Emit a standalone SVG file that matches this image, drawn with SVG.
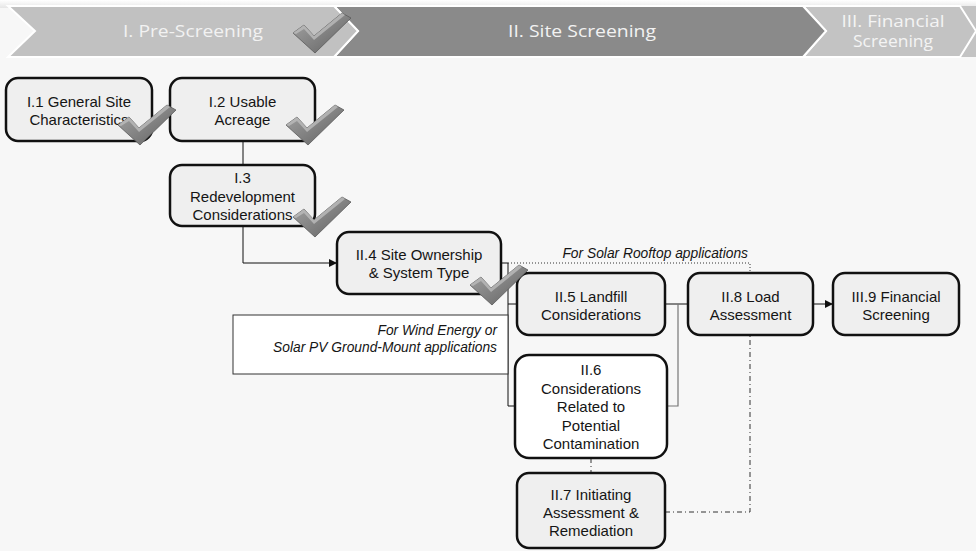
<svg xmlns="http://www.w3.org/2000/svg" width="976" height="551" viewBox="0 0 976 551">
  <style>
    .node rect { fill: #efefef; stroke: #111; stroke-width: 2.5; }
    .node.white rect { fill: #ffffff; }
    .node text { font-family: "Liberation Sans", Arial, sans-serif; font-size: 15px; fill: #151515; text-anchor: middle; }
    .note { font-family: "Liberation Sans", Arial, sans-serif; font-size: 13.8px; font-style: italic; fill: #151515; text-anchor: end; }
    .phase { font-family: "Open Sans", "Noto Sans", sans-serif; font-size: 16px; text-anchor: middle; }
    .solid { fill: none; stroke: #111; stroke-width: 1; }
    .grey { fill: none; stroke: #777; stroke-width: 1.2; }
    .dotted { fill: none; stroke: #333; stroke-width: 1; stroke-dasharray: 1 2; }
    .dashdot { fill: none; stroke: #333; stroke-width: 1; stroke-dasharray: 5 3 1 3; }
  </style>
  <defs>
    <linearGradient id="topfade" x1="0" y1="0" x2="0" y2="1">
      <stop offset="0" stop-color="#ffffff"/>
      <stop offset="1" stop-color="#e6e6e6"/>
    </linearGradient>
    <linearGradient id="checkfill" x1="0" y1="0" x2="1" y2="1">
      <stop offset="0" stop-color="#a8a8a8"/>
      <stop offset="0.6" stop-color="#7c7c7c"/>
      <stop offset="1" stop-color="#5e5e5e"/>
    </linearGradient>
    <marker id="arrow" viewBox="0 0 10 10" refX="10" refY="5" markerWidth="8" markerHeight="8" markerUnits="userSpaceOnUse" orient="auto">
      <path d="M0,0 L10,5 L0,10 z" fill="#111"/>
    </marker>
    <!-- bevelled tick mark, 58 x 40 -->
    <g id="check">
      <polygon points="0,20 11,12 21,23 49,0 58,5 22,40" fill="url(#checkfill)" stroke="#5a5a5a" stroke-width="0.8"/>
      <polygon points="0,20 11,12 21,23 49,0 52,2 21,27 11,16 3,21" fill="#bcbcbc" opacity="0.8"/>
    </g>
  </defs>

  <!-- page -->
  <rect x="0" y="0" width="976" height="551" fill="#f7f7f7"/>
  <rect x="0" y="0" width="976" height="8" fill="url(#topfade)"/>

  <!-- phase banner -->
  <g id="phases">
    <polygon points="826,6 976,6 976,57 826,57" fill="#c3c3c3"/>
    <polygon points="803,6 960,6 976,31 960,57 803,57 826,31" fill="#c3c3c3" stroke="#ffffff" stroke-width="2"/>
    <polygon points="334,6 803,6 826,31 803,57 334,57 358,31" fill="#8a8a8a" stroke="#ffffff" stroke-width="2"/>
    <polygon points="8,6 334,6 358,31 334,57 8,57 35,31" fill="#c1c1c1" stroke="#ffffff" stroke-width="2"/>
    <text class="phase" x="193" y="37" fill="#f2f2f2" textLength="140" lengthAdjust="spacingAndGlyphs">I. Pre-Screening</text>
    <text class="phase" x="582" y="37" fill="#f2f2f2" textLength="148" lengthAdjust="spacingAndGlyphs">II. Site Screening</text>
    <text class="phase" x="893" y="27" fill="#f4f4f4" textLength="103" lengthAdjust="spacingAndGlyphs">III. Financial</text>
    <text class="phase" x="893" y="47" fill="#f4f4f4" textLength="80" lengthAdjust="spacingAndGlyphs">Screening</text>
  </g>

  <!-- connectors -->
  <g id="connectors">
    <path class="solid" d="M243,141 V165"/>
    <path class="solid" d="M243,226 V263 H337" marker-end="url(#arrow)"/>
    <path class="solid" d="M501,263 H508 V406 H515"/>
    <path class="solid" d="M508,304 H517"/>
    <path class="solid" d="M665,304 H688"/>
    <path class="grey" d="M678,304 V406 H667"/>
    <path class="solid" d="M813,304 H833" marker-end="url(#arrow)"/>
    <path class="dotted" d="M508,263 H750 V273"/>
    <path class="dashdot" d="M591,458 V473"/>
    <path class="dashdot" d="M665,512 H750 V335"/>
  </g>

  <!-- application notes -->
  <g id="note-rooftop">
    <text class="note" x="748" y="258">For Solar Rooftop applications</text>
  </g>
  <g id="note-ground">
    <rect x="233" y="315" width="275" height="59" fill="#ffffff" stroke="#333" stroke-width="1"/>
    <text class="note" x="497" y="335">For Wind Energy or</text>
    <text class="note" x="497" y="352">Solar PV Ground-Mount applications</text>
  </g>

  <!-- steps -->
  <g id="n-i1" class="node">
    <rect x="6" y="78" width="146" height="63" rx="12"/>
    <text x="79" y="107">I.1 General Site</text>
    <text x="79" y="125">Characteristics</text>
  </g>
  <g id="n-i2" class="node">
    <rect x="170" y="78" width="145" height="63" rx="12"/>
    <text x="242.5" y="107">I.2 Usable</text>
    <text x="242.5" y="125">Acreage</text>
  </g>
  <g id="n-i3" class="node">
    <rect x="170" y="165" width="145" height="61" rx="12"/>
    <text x="242.5" y="183">I.3</text>
    <text x="242.5" y="201.5">Redevelopment</text>
    <text x="242.5" y="220">Considerations</text>
  </g>
  <g id="n-ii4" class="node">
    <rect x="337" y="232" width="164" height="62" rx="12"/>
    <text x="419" y="260">II.4 Site Ownership</text>
    <text x="419" y="278">&amp; System Type</text>
  </g>
  <g id="n-ii5" class="node">
    <rect x="517" y="273" width="148" height="62" rx="12"/>
    <text x="591" y="302">II.5 Landfill</text>
    <text x="591" y="320">Considerations</text>
  </g>
  <g id="n-ii8" class="node">
    <rect x="688" y="273" width="125" height="62" rx="12"/>
    <text x="750.5" y="302">II.8 Load</text>
    <text x="750.5" y="320">Assessment</text>
  </g>
  <g id="n-iii9" class="node">
    <rect x="833" y="273" width="126" height="62" rx="12"/>
    <text x="896" y="302">III.9 Financial</text>
    <text x="896" y="320">Screening</text>
  </g>
  <g id="n-ii6" class="node white">
    <rect x="515" y="355" width="152" height="103" rx="14"/>
    <text x="591" y="375">II.6</text>
    <text x="591" y="393.5">Considerations</text>
    <text x="591" y="412">Related to</text>
    <text x="591" y="430.5">Potential</text>
    <text x="591" y="449">Contamination</text>
  </g>
  <g id="n-ii7" class="node">
    <rect x="517" y="473" width="148" height="75" rx="12"/>
    <text x="591" y="500">II.7 Initiating</text>
    <text x="591" y="518">Assessment &amp;</text>
    <text x="591" y="536">Remediation</text>
  </g>

  <!-- completion ticks -->
  <g id="ticks">
    <use href="#check" x="293" y="13"/>
    <use href="#check" x="118" y="105"/>
    <use href="#check" x="286" y="105"/>
    <use href="#check" x="293" y="197"/>
    <use href="#check" x="470" y="265"/>
  </g>
</svg>
